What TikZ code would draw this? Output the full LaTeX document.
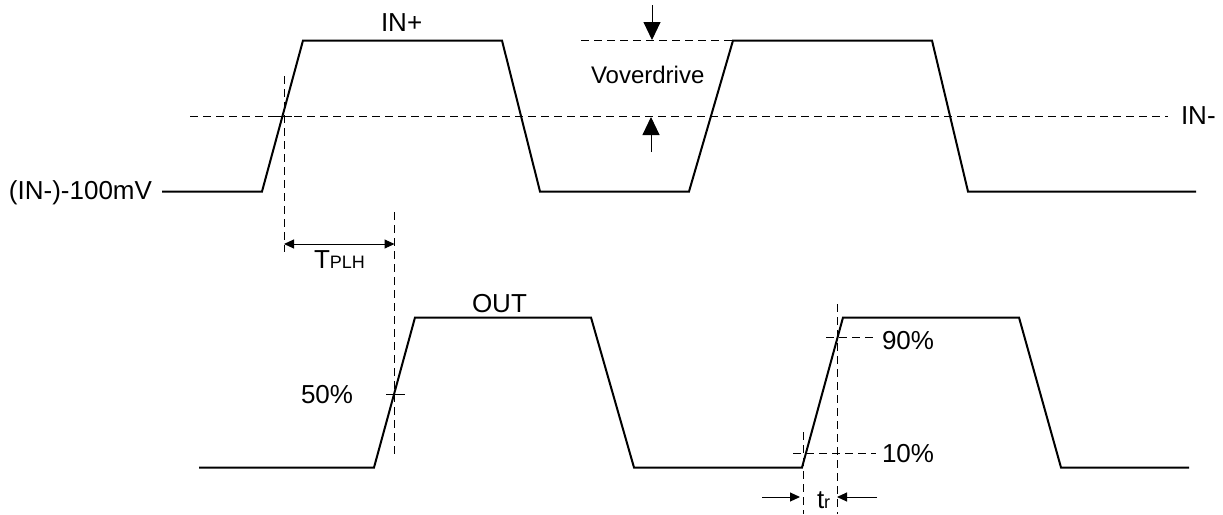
\documentclass[tikz,border=0pt]{standalone}
\usepackage{fontspec}
\setmainfont{Liberation Sans}
\usetikzlibrary{arrows.meta}
\usetikzlibrary{positioning}

\begin{document}
\begin{tikzpicture}[x=1pt,y=-1pt]
 \tikzstyle{wave} = [color=black, line width=2pt, line join=miter];
 \tikzstyle{refdash} = [color=black, line width=1pt, dash pattern=on 8pt off 5pt];
 \tikzstyle{fine} = [color=black, line width=1pt];
 \tikzstyle{lab} = [inner sep=0pt, outer sep=0pt, anchor=base west, font=\fontsize{26}{26}\selectfont];
 \tikzstyle{smallarrow} = [-{Triangle[width=9pt,length=10pt]}, fine];
 \tikzstyle{bigarrow} = [-{Triangle[width=17pt,length=18pt]}, fine];
 \useasboundingbox (0,0) rectangle (1223,514);

 % labels
 \node (inplus) [lab] at (381,31) {IN+};
 \node (inminus) [lab] at (1181,124) {IN-};
 \node (inlow) [lab] at (9,199) {(IN-)-100mV};
 \node (vod) [lab, font=\fontsize{24}{24}\selectfont] at (591,83) {Voverdrive};
 \node (tplh) [lab] at (314,268) {T{\fontsize{18}{18}\selectfont PLH}};
 \node (outlab) [lab] at (472,312) {OUT};
 \node (fifty) [lab] at (301,403) {50\%};
 \node (ninety) [lab] at (882,349) {90\%};
 \node (ten) [lab] at (882,462) {10\%};
 \node (trlab) [lab] at (817,508) {t{\fontsize{18}{18}\selectfont r}};

 % waveforms
 \draw [wave] (162,191.5) -- (262,191.5) -- (303,40.5) -- (502,40.5) -- (540,191.5) -- (689,191.5)
  -- (733,40.5) -- (932,40.5) -- (968,191.5) -- (1196,191.5);
 \draw [wave] (199,467.5) -- (374,467.5) -- (415,317.5) -- (591,317.5) -- (634,467.5) -- (802,467.5)
  -- (843,317.5) -- (1019,317.5) -- (1061,467.5) -- (1189,467.5);

 % reference levels
 \coordinate (refl) at (190,116.5);
 \coordinate (refr) at (1168,116.5);
 \coordinate (topl) at (581,40.5);
 \coordinate (topr) at (733,40.5);
 \draw [refdash] (refl) -- (refr);
 \draw [refdash] (topl) -- (topr);

 % time markers
 \coordinate (crossa) at (284,76);
 \coordinate (crossb) at (284,252);
 \coordinate (outa) at (394.5,212);
 \coordinate (outb) at (394.5,457);
 \coordinate (risea) at (837,304);
 \coordinate (riseb) at (837,514);
 \coordinate (falla) at (803,432);
 \coordinate (fallb) at (803,514);
 \draw [refdash] (crossa) -- (crossb);
 \draw [refdash] (outa) -- (outb);
 \draw [refdash] (risea) -- (riseb);
 \draw [refdash] (falla) -- (fallb);

 % ticks
 \coordinate (ticka) at (273,116.5);
 \coordinate (tickb) at (292,116.5);
 \coordinate (tickc) at (386,394);
 \coordinate (tickd) at (405,394);
 \draw [fine] (ticka) -- (tickb);
 \draw [fine] (tickc) -- (tickd);

 % percent levels
 \coordinate (ninea) at (826,337.5);
 \coordinate (nineb) at (875,337.5);
 \coordinate (onea) at (793,453);
 \coordinate (oneb) at (876,453);
 \draw [refdash] (ninea) -- (nineb);
 \draw [refdash] (onea) -- (oneb);

 % dimension arrows
 \coordinate (tplhl) at (284,244);
 \coordinate (tplhr) at (394.5,244);
 \draw [fine, {Triangle[width=9pt,length=10pt]}-{Triangle[width=9pt,length=10pt]}] (tplhl) -- (tplhr);
 \coordinate (downa) at (652,5);
 \coordinate (downb) at (652,40);
 \coordinate (upa) at (651,152);
 \coordinate (upb) at (651,117);
 \draw [bigarrow] (downa) -- (downb);
 \draw [bigarrow] (upa) -- (upb);
 \coordinate (tra) at (762,497);
 \coordinate (trb) at (800,497);
 \coordinate (trc) at (877,497);
 \coordinate (trd) at (837,497);
 \draw [smallarrow] (tra) -- (trb);
 \draw [smallarrow] (trc) -- (trd);
\end{tikzpicture}
\end{document}
